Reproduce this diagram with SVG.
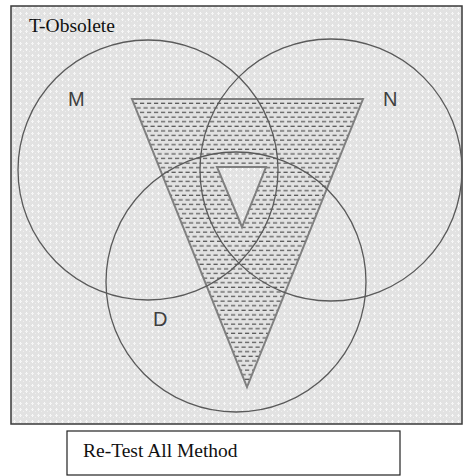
<svg xmlns="http://www.w3.org/2000/svg" width="465" height="476" viewBox="0 0 465 476">
<style>
.circ{fill:none;stroke:#5a5a5a;stroke-width:1.3}
.tri{stroke:#808080;stroke-width:2;stroke-linejoin:miter}
.lbl{font-family:"Liberation Sans",Arial,sans-serif;font-size:20px;fill:#3f3f3f}
.ser{font-family:"Liberation Serif","Times New Roman",serif;fill:#111}
</style>
<defs>
<pattern id="dots" width="6" height="6" patternUnits="userSpaceOnUse">
<rect width="6" height="6" fill="#e2e2e2"/>
<rect x="2" y="0" width="1" height="1" fill="#fafafa"/>
<rect x="1" y="1" width="3" height="1" fill="#f4f4f4"/>
<rect x="2" y="2" width="1" height="1" fill="#fafafa"/>
<rect x="5" y="3" width="1" height="1" fill="#efefef"/>
</pattern>
<pattern id="dash" width="7" height="9.2" patternUnits="userSpaceOnUse">
<rect width="7" height="9.2" fill="#e2e2e2"/>
<rect x="0" y="1.5" width="4.2" height="1.2" fill="#555"/>
<rect x="3.5" y="6.1" width="4.2" height="1.2" fill="#555"/>
<rect x="-3.5" y="6.1" width="4.2" height="1.2" fill="#555"/>
</pattern>
</defs>
<g id="frame">
<rect x="11" y="6" width="451" height="418" fill="url(#dots)" stroke="#3a3a3a" stroke-width="1.5"/>
<text class="ser" x="29" y="32" font-size="19.5">T-Obsolete</text>
</g>
<g id="triangle">
<polygon class="tri" points="132,99 363,99 247,387" fill="url(#dash)"/>
<polygon class="tri" points="217,167 266,167 242,227" fill="url(#dots)"/>
</g>
<g id="circle-M">
<circle class="circ" cx="148" cy="170" r="130"/>
<text class="lbl" x="68" y="106">M</text>
</g>
<g id="circle-N">
<circle class="circ" cx="331" cy="170" r="131"/>
<text class="lbl" x="383" y="106">N</text>
</g>
<g id="circle-D">
<circle class="circ" cx="236" cy="282" r="130"/>
<text class="lbl" x="153" y="326">D</text>
</g>
<g id="connectors"></g>
<g id="legend">
<rect x="67" y="431" width="333" height="44" fill="#fff" stroke="#222" stroke-width="1.2"/>
<text class="ser" x="83" y="457" font-size="19.5">Re-Test All Method</text>
</g>
</svg>
